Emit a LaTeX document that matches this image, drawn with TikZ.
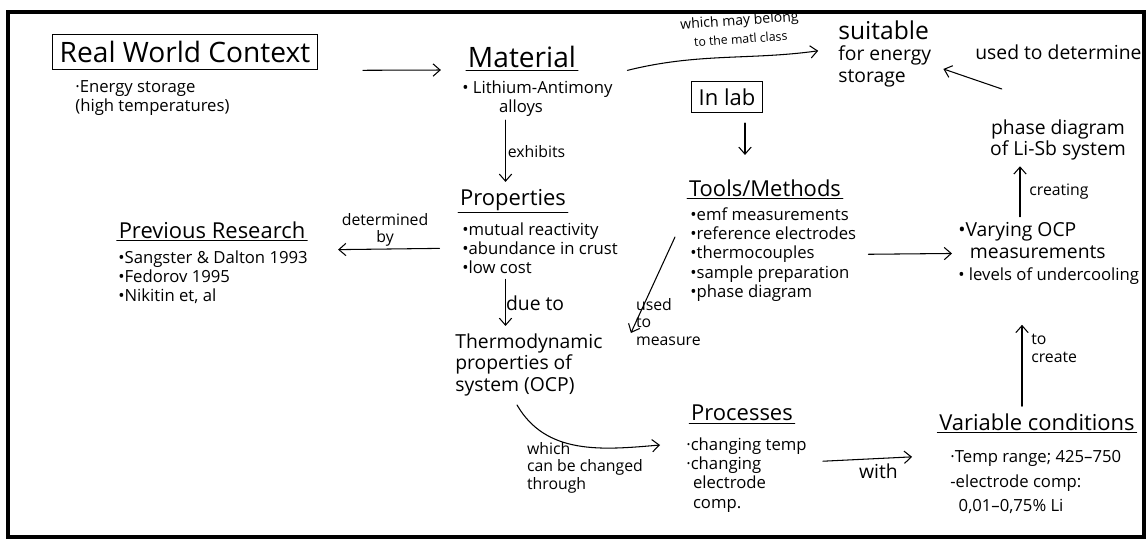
\documentclass[tikz,border=0pt]{standalone}
\usepackage{fontspec}
\setmainfont{Open Sans}
\usetikzlibrary{positioning,arrows.meta}

\tikzset{
  bighead/.style={font=\fontsize{16}{18}\selectfont, inner sep=1pt},
  head/.style={font=\fontsize{12.5}{14}\selectfont, inner sep=1pt},
  mid/.style={font=\fontsize{11}{12.5}\selectfont, align=left, inner sep=0pt},
  items/.style={font=\fontsize{9.5}{11}\selectfont, align=left, inner sep=0pt},
  lbl/.style={font=\fontsize{9}{10}\selectfont, align=left, inner sep=1pt},
  arr/.style={-{Straight Barb[length=4pt,width=7pt]}, line width=0.6pt},
  boxed/.style={draw, line width=0.7pt, inner sep=4pt},
}

\begin{document}
\begin{tikzpicture}[x=0.02cm, y=-0.02cm, line cap=round]
\useasboundingbox (0,0) rectangle (1148,540);

\begin{scope}
\clip (8,12) rectangle (1144,537);

% left column
\node[bighead, boxed] (rwc) at (185,52) {Real World Context};
\node[items, anchor=north west] (rwcL) at (75,80) {·Energy storage\\(high temperatures)};

\node[head] (prev) at (212,230) {Previous Research};
\draw (prev.south west) -- (prev.south east);
\node[items, anchor=north west] (prevL) at (118,250) {•Sangster \& Dalton 1993\\•Fedorov 1995\\•Nikitin et, al};

% middle column
\node[bighead] (mat) at (522,57) {Material};
\draw (mat.south west) -- (mat.south east);
\node[items, anchor=north west] (matL) at (462,80) {• Lithium-Antimony\\\hspace{2.2em}alloys};

\node[head] (prop) at (513,200) {Properties};
\draw (prop.south west) -- (prop.south east);
\node[items, anchor=north west] (propL) at (462,222) {•mutual reactivity\\•abundance in crust\\•low cost};

\node[mid, anchor=north west] (thermo) at (455,333) {Thermodynamic\\properties of\\system (OCP)};

\node[head] (proc) at (742,413) {Processes};
\draw (proc.south west) -- (proc.south east);
\node[items, anchor=north west] (procL) at (686,437) {·changing temp\\·changing\\\hspace{0.4em}electrode\\\hspace{0.4em}comp.};

% lab column
\node[mid, anchor=north west] (suit) at (838,20) {{\fontsize{14}{14}\selectfont suitable}\\for energy\\storage};
\node[head, boxed] (lab) at (727,97) {In lab};
\node[head] (tools) at (765,188) {Tools/Methods};
\draw (tools.south west) -- (tools.south east);
\node[items, anchor=north west] (toolsL) at (690,207) {•emf measurements\\•reference electrodes\\•thermocouples\\•sample preparation\\•phase diagram};

% right column
\node[mid, align=center] (phase) at (1058,140) {phase diagram\\of Li-Sb system};
\node[mid, anchor=north west] (ocp) at (958,222) {•Varying OCP\\\hspace{0.6em}measurements\\{\fontsize{9.5}{11}\selectfont • levels of undercooling}};
\node[head] (var) at (1037,422) {Variable conditions};
\draw (var.south west) -- (var.south east);
\node[items, anchor=north west] (varL) at (950,450) {·Temp range; 425–750\\[3pt]-electrode comp:\\[3pt]\hspace{0.5em}0,01–0,75\% Li};

% connectors
\draw[arr, shorten <=0.9cm, shorten >=0.5cm] (rwc.south east) -- (mat.south west);
\draw[arr, shorten <=2pt, shorten >=3pt] ([xshift=-0.15cm]prop.north |- matL.south) -- ([xshift=-0.15cm]prop.north)
  node[lbl, midway, right] {exhibits};
\draw[arr, shorten <=3pt, shorten >=4pt] ([xshift=-0.15cm]prop.north |- propL.south) -- ([xshift=-0.15cm]prop.north |- thermo.north)
  node[mid, midway, right] {due to};
\draw[arr, shorten <=0.45cm, shorten >=0.6cm] (propL.west) -- (prevL.north east)
  node[lbl, midway, above, align=center] {determined\\by};
\draw[arr] ([shift={(62,8)}]thermo.south west) to[out=-60, in=185] ([shift={(-26,8)}]procL.north west);
\node[lbl, anchor=north west] (thermoL) at (525,440) {which\\can be changed\\through};
\draw[arr, shorten <=0.32cm, shorten >=0.76cm] ([yshift=-0.5cm]procL.north east) -- ([yshift=-0.1cm]varL.north west)
  node[mid, midway, below=3pt] {with};
\draw[arr, shorten <=3pt, shorten >=0.8cm] ([xshift=-0.3cm]var.north) -- ([xshift=-0.3cm]var.north |- ocp.south)
  node[lbl, midway, right=4pt] {to\\create};
\draw[arr, shorten <=3pt, shorten >=3pt] ([xshift=-0.76cm]phase.south |- ocp.north) -- ([xshift=-0.76cm]phase.south)
  node[lbl, midway, right=4pt] {creating};
\draw[arr, shorten <=0.24cm, shorten >=0.12cm] (toolsL.east) -- (ocp.west);
\draw[arr] ([shift={(12,-30)}]phase.north west) -- ([shift={(12,15)}]suit.east);
\node[mid, anchor=west] (detL) at (975,52) {used to determine};
\draw[arr, shorten <=0.3cm, shorten >=0.4cm] ([shift={(0,-6)}]matL.north east) to[out=14, in=188] ([shift={(0,28)}]suit.north west);
\node[font=\fontsize{8}{10.5}\selectfont, align=center, inner sep=0pt, rotate=4] (belongL) at (740,29) {which may belong\\{\fontsize{7}{7}\selectfont to the matl class}};
\draw[arr, shorten <=0.2cm, shorten >=0.45cm] ([xshift=0.36cm]lab.south) -- ([xshift=0.36cm]lab.south |- tools.north);
\draw[arr] ([shift={(-15,30)}]toolsL.north west) -- ([shift={(28,0)}]thermo.north east);
\node[lbl, anchor=north west] (measL) at (634,296) {used\\to\\measure};
\end{scope}

\draw[line width=1.8pt] (8,12) rectangle (1144,537);
\end{tikzpicture}
\end{document}
